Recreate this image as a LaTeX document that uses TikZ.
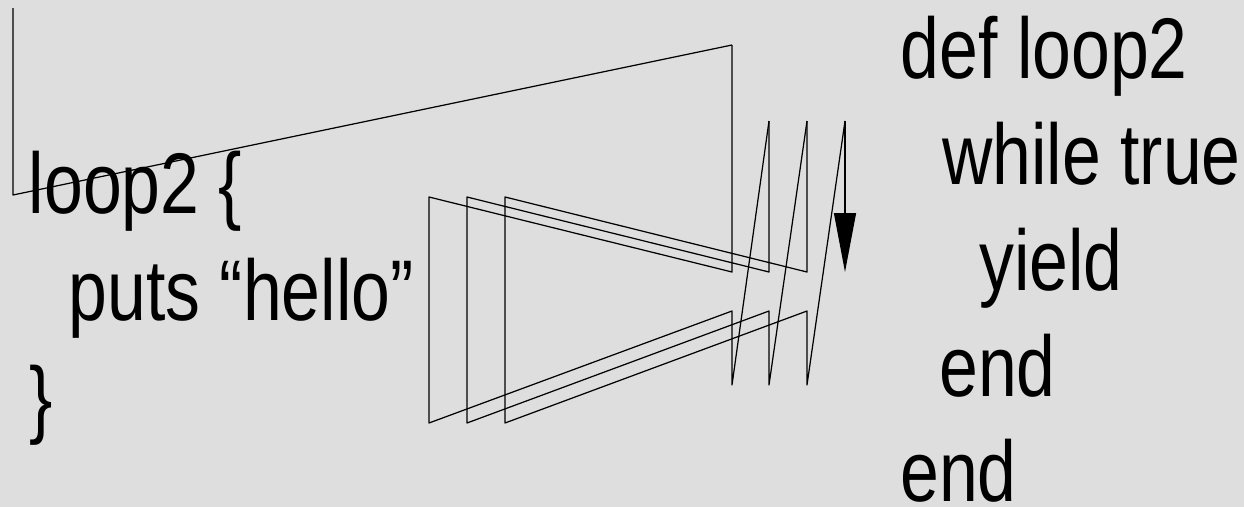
\documentclass[tikz,border=0pt]{standalone}
\usepackage{fontspec}
\setmainfont{Liberation Sans}[FakeStretch=0.81]
\usetikzlibrary{arrows.meta}
\definecolor{Paper}{HTML}{DEDEDE}
\definecolor{Ink}{HTML}{000000}

\begin{document}
\begin{tikzpicture}[x=0.02cm,y=-0.02cm,
    code/.style={anchor=base west,inner sep=0pt,font=\fontsize{49}{60}\selectfont},
    wire/.style={draw=Ink,line width=0.7pt,line join=round}]
  \fill[Paper] (0,0) rectangle (1244,507);
  \useasboundingbox (0,0) rectangle (1244,507);

  \node[code] (callOpen) at (28.5,213) {loop2 \{};
  \node[code] (callBody) at (68.5,320) {puts “hello”};
  \node[code] (callClose) at (29,427) {\}};

  \foreach \name/\x/\y/\txt in {
    defHead/900.5/78/def loop2, whileHead/942/184/while true,
    yieldLine/979/290/yield, whileEnd/939/396/end, defEnd/900/501/end}
    {
      \node[code] (\name) at (\x,\y) {\txt};
    }

  \coordinate (start) at (13,8);
  \coordinate (turn) at (13,195);
  \draw[wire] (start) -- (turn) -- (732,45);
  \foreach \top/\r/\l/\n in {45/732/429/769, 121/769/467/807, 121/807/505/845}
    \draw[wire] (\r,\top) -- (\r,272) -- (\l,197) -- (\l,423)
      -- (\r,311) -- (\r,385) -- (\n,121);
  \coordinate (yieldTop) at (845,121);
  \coordinate (yieldTip) at (845,272);
  \draw[wire,-{Triangle[length=1.18cm,width=0.44cm]}] (yieldTop) -- (yieldTip);
\end{tikzpicture}
\end{document}
